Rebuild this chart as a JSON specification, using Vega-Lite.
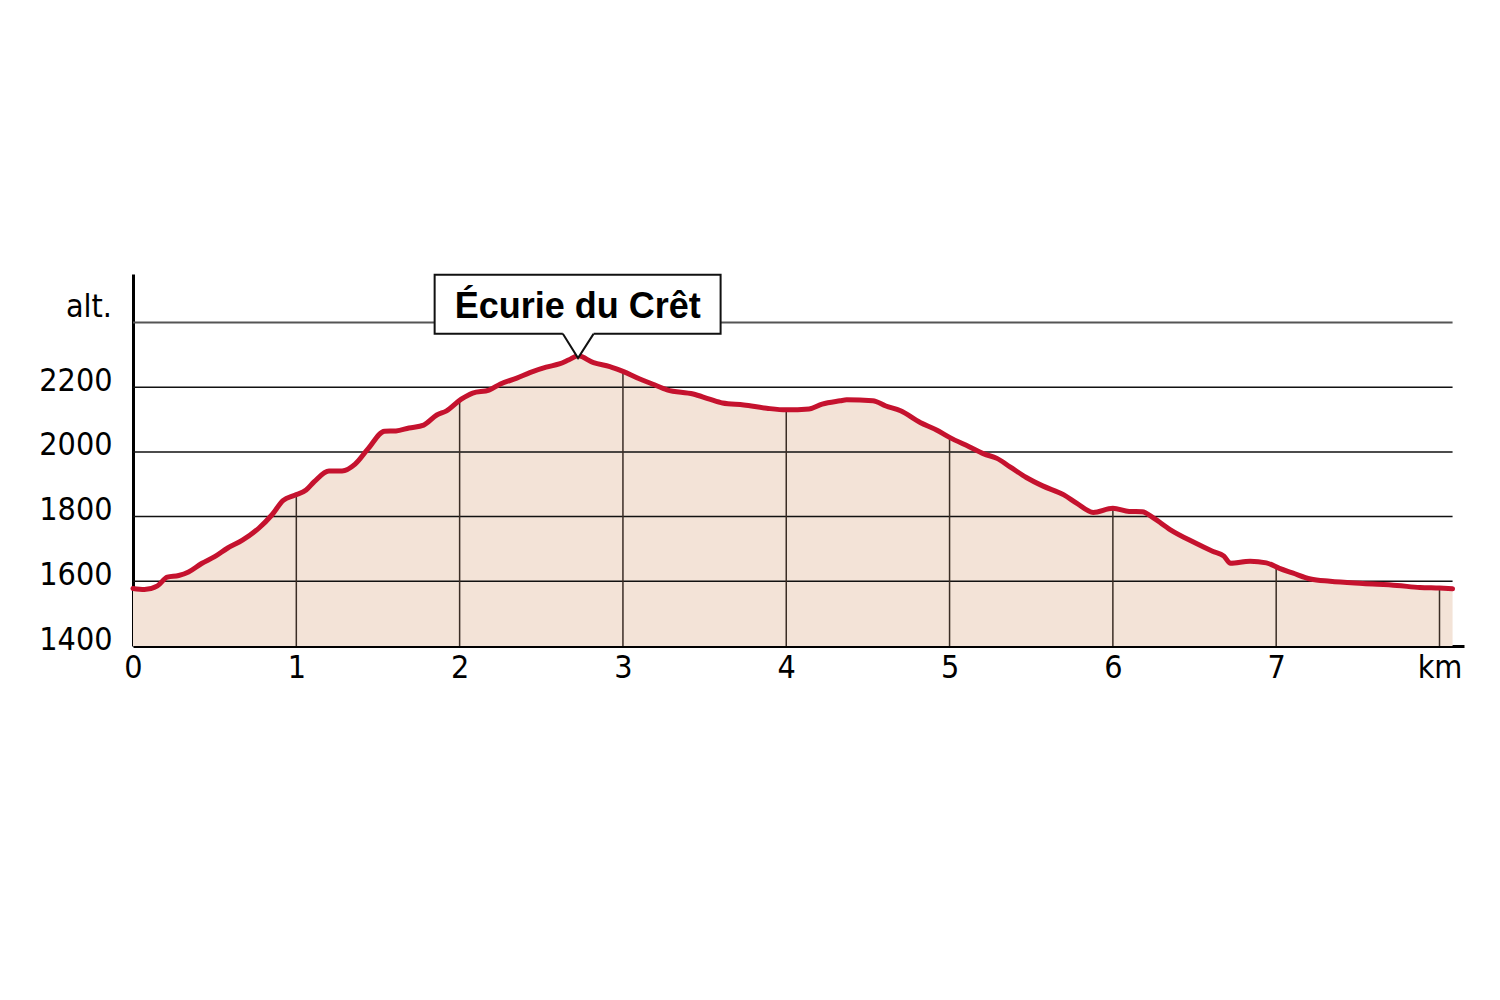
{
  "$schema": "https://vega.github.io/schema/vega-lite/v6.json",
  "width": 1331,
  "height": 372,
  "autosize": {"type": "none"},
  "padding": {"left": 133, "top": 274, "right": 36, "bottom": 354},
  "background": "white",
  "config": {"view": {"stroke": null}},
  "datasets": {
    "profile": [
      {"km": 0, "elev": 1578}, {"km": 0.07, "elev": 1575}, {"km": 0.15, "elev": 1586}, {"km": 0.21, "elev": 1613},
      {"km": 0.28, "elev": 1618}, {"km": 0.34, "elev": 1629}, {"km": 0.42, "elev": 1655}, {"km": 0.5, "elev": 1676},
      {"km": 0.58, "elev": 1703}, {"km": 0.67, "elev": 1727}, {"km": 0.77, "elev": 1764}, {"km": 0.85, "elev": 1805},
      {"km": 0.92, "elev": 1850}, {"km": 0.99, "elev": 1866}, {"km": 1.06, "elev": 1882}, {"km": 1.11, "elev": 1908},
      {"km": 1.2, "elev": 1941}, {"km": 1.28, "elev": 1941}, {"km": 1.36, "elev": 1962}, {"km": 1.44, "elev": 2010},
      {"km": 1.54, "elev": 2064}, {"km": 1.61, "elev": 2065}, {"km": 1.69, "elev": 2074}, {"km": 1.78, "elev": 2083},
      {"km": 1.86, "elev": 2114}, {"km": 1.92, "elev": 2127}, {"km": 2.01, "elev": 2163}, {"km": 2.08, "elev": 2182},
      {"km": 2.18, "elev": 2191}, {"km": 2.25, "elev": 2210}, {"km": 2.35, "elev": 2228}, {"km": 2.43, "elev": 2245},
      {"km": 2.53, "elev": 2262}, {"km": 2.61, "elev": 2272}, {"km": 2.67, "elev": 2285}, {"km": 2.725, "elev": 2297},
      {"km": 2.82, "elev": 2276}, {"km": 2.92, "elev": 2264}, {"km": 3.0, "elev": 2249}, {"km": 3.1, "elev": 2226},
      {"km": 3.18, "elev": 2210}, {"km": 3.27, "elev": 2192}, {"km": 3.43, "elev": 2179}, {"km": 3.53, "elev": 2163},
      {"km": 3.61, "elev": 2151}, {"km": 3.74, "elev": 2145}, {"km": 3.88, "elev": 2135}, {"km": 4.0, "elev": 2130},
      {"km": 4.14, "elev": 2133}, {"km": 4.22, "elev": 2148}, {"km": 4.33, "elev": 2158}, {"km": 4.37, "elev": 2161},
      {"km": 4.53, "elev": 2158}, {"km": 4.61, "elev": 2142}, {"km": 4.7, "elev": 2127}, {"km": 4.82, "elev": 2091},
      {"km": 4.92, "elev": 2068}, {"km": 5.0, "elev": 2045}, {"km": 5.12, "elev": 2016}, {"km": 5.21, "elev": 1994},
      {"km": 5.29, "elev": 1980}, {"km": 5.37, "elev": 1954}, {"km": 5.47, "elev": 1921}, {"km": 5.57, "elev": 1895},
      {"km": 5.7, "elev": 1867}, {"km": 5.78, "elev": 1841}, {"km": 5.88, "elev": 1813}, {"km": 6.0, "elev": 1826},
      {"km": 6.1, "elev": 1816}, {"km": 6.18, "elev": 1815}, {"km": 6.25, "elev": 1795}, {"km": 6.35, "elev": 1760},
      {"km": 6.49, "elev": 1722}, {"km": 6.61, "elev": 1693}, {"km": 6.68, "elev": 1678}, {"km": 6.72, "elev": 1656},
      {"km": 6.84, "elev": 1662}, {"km": 6.94, "elev": 1657}, {"km": 7.02, "elev": 1640}, {"km": 7.1, "elev": 1626},
      {"km": 7.21, "elev": 1607}, {"km": 7.33, "elev": 1600}, {"km": 7.53, "elev": 1593}, {"km": 7.74, "elev": 1587},
      {"km": 7.88, "elev": 1581}, {"km": 8.0, "elev": 1579}, {"km": 8.08, "elev": 1577}
    ],
    "grid": [
      {"elev": 1600, "start": 0, "end": 8.08, "kind": "main"},
      {"elev": 1800, "start": 0, "end": 8.08, "kind": "main"},
      {"elev": 2000, "start": 0, "end": 8.08, "kind": "main"},
      {"elev": 2200, "start": 0, "end": 8.08, "kind": "main"},
      {"elev": 2400, "start": 0, "end": 8.08, "kind": "top"}
    ],
    "drops": [
      {"km": 1, "base": 1400, "elev": 1866}, {"km": 2, "base": 1400, "elev": 2160}, {"km": 3, "base": 1400, "elev": 2249},
      {"km": 4, "base": 1400, "elev": 2130}, {"km": 5, "base": 1400, "elev": 2045}, {"km": 6, "base": 1400, "elev": 1826},
      {"km": 7, "base": 1400, "elev": 1640}, {"km": 8, "base": 1400, "elev": 1579}
    ],
    "box": [{"x1": 1.847, "x2": 3.598, "y1": 2365, "y2": 2548, "label": "Écurie du Crêt", "cx": 2.723, "ty": 2413}],
    "pointer": [
      {"km": 2.632, "top": 2371, "tip": 2365},
      {"km": 2.725, "top": 2371, "tip": 2290},
      {"km": 2.82, "top": 2371, "tip": 2365}
    ],
    "alt": [{"km": 0, "elev": 2400, "label": "alt."}]
  },
  "layer": [
    {
      "data": {"name": "profile"},
      "mark": {"type": "area", "color": "#f3e3d7", "opacity": 1, "interpolate": "monotone"},
      "encoding": {
        "x": {
          "field": "km", "type": "quantitative",
          "scale": {"domain": [0, 8.15], "nice": false, "zero": false},
          "axis": {
            "values": [0, 1, 2, 3, 4, 5, 6, 7, 8],
            "labelExpr": "datum.value == 8 ? 'km' : datum.label",
            "format": "d",
            "title": null, "grid": false, "ticks": false, "tickSize": 0,
            "domainColor": "#000", "domainWidth": 3, "labelFlush": false,
            "labelFont": "DejaVu Sans Condensed", "labelFontSize": 32, "labelColor": "#000",
            "labelPadding": 6, "labelBaseline": "top"
          }
        },
        "y": {
          "field": "elev", "type": "quantitative",
          "scale": {"domain": [1400, 2550], "nice": false, "zero": false, "clamp": true},
          "axis": {
            "values": [1400, 1600, 1800, 2000, 2200],
            "format": "d",
            "title": null, "grid": false, "ticks": false, "tickSize": 0,
            "domainColor": "#000", "domainWidth": 3,
            "labelFont": "DejaVu Sans Condensed", "labelFontSize": 32, "labelColor": "#000",
            "labelPadding": 21, "labelBaseline": "alphabetic", "labelOffset": 3
          }
        }
      }
    },
    {
      "data": {"name": "grid"},
      "mark": {"type": "rule"},
      "encoding": {
        "y": {"field": "elev", "type": "quantitative"},
        "x": {"field": "start", "type": "quantitative"},
        "x2": {"field": "end"},
        "color": {"field": "kind", "type": "nominal", "scale": {"domain": ["main", "top"], "range": ["#111111", "#555555"]}, "legend": null},
        "strokeWidth": {"condition": {"test": "datum.kind == 'top'", "value": 2}, "value": 1.5}
      }
    },
    {
      "data": {"name": "drops"},
      "mark": {"type": "rule", "color": "#3a2d25", "strokeWidth": 1.5},
      "encoding": {
        "x": {"field": "km", "type": "quantitative"},
        "y": {"field": "base", "type": "quantitative"},
        "y2": {"field": "elev"}
      }
    },
    {
      "data": {"name": "profile"},
      "mark": {"type": "line", "color": "#c5122e", "strokeWidth": 5, "strokeCap": "round", "strokeJoin": "round", "interpolate": "monotone"},
      "encoding": {
        "x": {"field": "km", "type": "quantitative"},
        "y": {"field": "elev", "type": "quantitative"}
      }
    },
    {
      "data": {"name": "box"},
      "mark": {"type": "rect", "fill": "white", "stroke": "#111111", "strokeWidth": 2},
      "encoding": {
        "x": {"field": "x1", "type": "quantitative"},
        "x2": {"field": "x2"},
        "y": {"field": "y1", "type": "quantitative"},
        "y2": {"field": "y2"}
      }
    },
    {
      "data": {"name": "pointer"},
      "mark": {"type": "area", "color": "white", "opacity": 1},
      "encoding": {
        "x": {"field": "km", "type": "quantitative"},
        "y": {"field": "tip", "type": "quantitative"},
        "y2": {"field": "top"}
      }
    },
    {
      "data": {"name": "pointer"},
      "mark": {"type": "line", "color": "#111111", "strokeWidth": 2},
      "encoding": {
        "x": {"field": "km", "type": "quantitative"},
        "y": {"field": "tip", "type": "quantitative"}
      }
    },
    {
      "data": {"name": "box"},
      "mark": {"type": "text", "font": "Liberation Sans", "fontWeight": "bold", "fontSize": 36, "color": "#000", "align": "center", "baseline": "alphabetic"},
      "encoding": {
        "x": {"field": "cx", "type": "quantitative"},
        "y": {"field": "ty", "type": "quantitative"},
        "text": {"field": "label"}
      }
    },
    {
      "data": {"name": "alt"},
      "mark": {"type": "text", "font": "DejaVu Sans Condensed", "fontSize": 32, "color": "#000", "align": "right", "baseline": "alphabetic", "dx": -21, "dy": -6},
      "encoding": {
        "x": {"field": "km", "type": "quantitative"},
        "y": {"field": "elev", "type": "quantitative"},
        "text": {"field": "label"}
      }
    }
  ]
}
